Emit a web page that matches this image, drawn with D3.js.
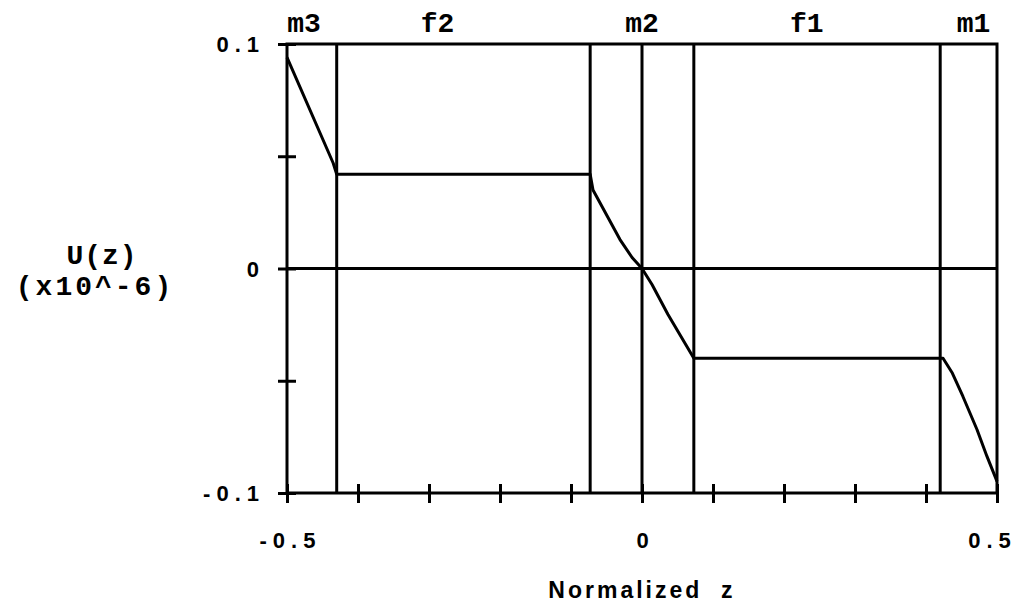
<!DOCTYPE html>
<html>
<head>
<meta charset="utf-8">
<script src="https://cdn.jsdelivr.net/npm/d3@7"></script>
<style>
  html, body { margin: 0; padding: 0; background: #fff; }
  svg { display: block; }
</style>
</head>
<body>
<svg id="chart" width="1022" height="610"></svg>
<script>
// Displacement profile across the layered stack
const zValues = [-0.5, -0.435, -0.43, -0.073, -0.069, -0.031, -0.014, 0, 0.0141, 0.0366, 0.073, 0.424, 0.4366, 0.452, 0.4718, 0.4859, 0.4972, 0.5];
const uValues = [0.094, 0.047, 0.042, 0.042, 0.035, 0.0129, 0.0049, 0, -0.0071, -0.0205, -0.040, -0.040, -0.0463, -0.057, -0.0717, -0.0837, -0.0926, -0.0948];

// Layer boundaries and layer names
const boundaries = [-0.43, -0.073, 0, 0.073, 0.42];
const layerNames = ["m3", "f2", "m2", "f1", "m1"];
const layerLabelZ = [-0.476, -0.288, 0, 0.232, 0.467];

// Axis ticks
const xTicks = [-0.5, -0.4, -0.3, -0.2, -0.1, 0, 0.1, 0.2, 0.3, 0.4, 0.5];
const xTickLabels = [-0.5, 0, 0.5];
const yTicks = [-0.1, -0.05, 0, 0.05, 0.1];
const yTickLabels = [-0.1, 0, 0.1];

const svg = d3.select("#chart");
const plotL = 287, plotR = 997, plotT = 44, plotB = 493;

const x = d3.scaleLinear().domain([-0.5, 0.5]).range([plotL, plotR]);
const y = d3.scaleLinear().domain([-0.1, 0.1]).range([plotB, plotT]);

const ink = "#000";
const sw = 3;
const sans = "'Liberation Sans', Arial, sans-serif";
const mono = "'Liberation Mono', 'Courier New', monospace";

// Frame
svg.append("rect")
  .attr("x", plotL).attr("y", plotT)
  .attr("width", plotR - plotL).attr("height", plotB - plotT)
  .attr("fill", "none").attr("stroke", ink).attr("stroke-width", sw);

// Zero line
svg.append("line")
  .attr("x1", plotL).attr("x2", plotR)
  .attr("y1", y(0)).attr("y2", y(0))
  .attr("stroke", ink).attr("stroke-width", sw);

// Layer boundaries
svg.selectAll("line.boundary").data(boundaries).enter().append("line")
  .attr("class", "boundary")
  .attr("x1", d => x(d)).attr("x2", d => x(d))
  .attr("y1", plotT).attr("y2", plotB)
  .attr("stroke", ink).attr("stroke-width", sw);

// Bottom axis (ticks cross the axis line)
const xAxis = d3.axisBottom(x)
  .tickValues(xTicks)
  .tickSizeInner(9).tickSizeOuter(0)
  .tickFormat(d => xTickLabels.includes(d) ? String(d) : "");
const gx = svg.append("g").attr("transform", `translate(0,${plotB})`).call(xAxis);
gx.select(".domain").remove();
gx.selectAll(".tick line")
  .attr("y1", -9).attr("y2", 10)
  .attr("stroke", ink).attr("stroke-width", sw);
gx.selectAll(".tick text")
  .attr("y", 55).attr("dy", 0)
  .attr("dx", d => d === 0.5 ? -5 : 3)
  .attr("fill", ink)
  .style("font-family", sans)
  .style("font-weight", "bold")
  .style("font-size", "22px")
  .style("letter-spacing", "6px");

// Left axis
const yAxis = d3.axisLeft(y)
  .tickValues(yTicks)
  .tickSizeInner(9).tickSizeOuter(0)
  .tickFormat(d => yTickLabels.includes(d) ? String(d) : "");
const gy = svg.append("g").attr("transform", `translate(${plotL},0)`).call(yAxis);
gy.select(".domain").remove();
gy.selectAll(".tick line")
  .attr("x1", -9).attr("x2", 9)
  .attr("stroke", ink).attr("stroke-width", sw);
gy.selectAll(".tick text")
  .attr("x", -22).attr("dy", "0.36em")
  .attr("fill", ink)
  .style("font-family", sans)
  .style("font-weight", "bold")
  .style("font-size", "22px")
  .style("letter-spacing", "6px");

// Layer names above the frame
svg.selectAll("text.layer").data(layerNames).enter().append("text")
  .attr("class", "layer")
  .attr("x", (d, i) => x(layerLabelZ[i]))
  .attr("y", 32)
  .attr("text-anchor", "middle")
  .attr("fill", ink)
  .style("font-family", mono)
  .style("font-weight", "bold")
  .style("font-size", "28px")
  .text(d => d);

// Displacement curve
const line = d3.line().x(d => x(d[0])).y(d => y(d[1]));
svg.append("path")
  .datum(d3.zip(zValues, uValues))
  .attr("d", line)
  .attr("fill", "none")
  .attr("stroke", ink)
  .attr("stroke-width", sw)
  .attr("stroke-linejoin", "round");

// Axis titles
const yTitle = svg.append("text")
  .attr("text-anchor", "middle")
  .attr("fill", ink)
  .style("font-family", mono)
  .style("font-weight", "bold")
  .style("font-size", "28px");
yTitle.append("tspan").attr("x", 102).attr("y", 264).style("letter-spacing", "1px").text("U(z)");
yTitle.append("tspan").attr("x", 95).attr("y", 295).style("letter-spacing", "3px").text("(x10^-6)");

svg.append("text")
  .attr("x", 642).attr("y", 598)
  .attr("text-anchor", "middle")
  .attr("fill", ink)
  .style("font-family", sans)
  .style("font-weight", "bold")
  .style("font-size", "23px")
  .style("letter-spacing", "3px")
  .style("white-space", "pre")
  .text("Normalized  z");
</script>
</body>
</html>
